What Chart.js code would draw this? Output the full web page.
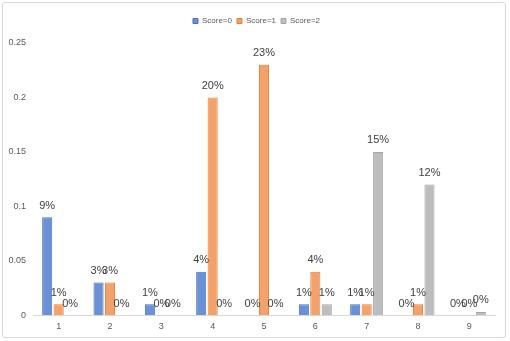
<!DOCTYPE html>
<html>
<head>
<meta charset="utf-8">
<script src="https://cdn.jsdelivr.net/npm/chart.js@4.4.1/dist/chart.umd.min.js"></script>
<style>
  html, body { margin: 0; padding: 0; background: #fff; }
  #wrap { position: relative; width: 510px; height: 341px; }
  #frame { position: absolute; left: 2px; top: 2px; width: 504px; height: 336px; border: 1px solid #d9d9d9; border-radius: 3px; box-sizing: border-box; }
  #chart { position: absolute; left: 0; top: 0; }
</style>
</head>
<body>
<div id="wrap">
  <div id="frame"></div>
  <canvas id="chart" width="510" height="341"></canvas>
</div>
<script>
var categories = ['1', '2', '3', '4', '5', '6', '7', '8', '9'];
var score0 = [0.09, 0.03, 0.01, 0.04, 0, 0.01, 0.01, 0, 0];
var score1 = [0.01, 0.03, 0, 0.20, 0.23, 0.04, 0.01, 0.01, 0];
var score2 = [0, 0, 0, 0, 0, 0.01, 0.15, 0.12, 0.003];
var yTicks = [0, 0.05, 0.1, 0.15, 0.2, 0.25];

// draws the percentage label above every bar
var valueLabels = {
    id: 'valueLabels',
    afterDatasetsDraw: function(chart) {
        var ctx = chart.ctx;
        ctx.save();
        ctx.font = '11px "Liberation Sans", Arial, sans-serif';
        ctx.fillStyle = '#404040';
        ctx.textAlign = 'center';
        ctx.textBaseline = 'bottom';
        chart.data.datasets.forEach(function(ds, i) {
            var meta = chart.getDatasetMeta(i);
            meta.data.forEach(function(bar, j) {
                var v = ds.data[j];
                ctx.fillText(Math.round(v * 100) + '%', bar.x, bar.y - 6);
            });
        });
        ctx.restore();
    }
};

// extra room under the legend, and nudge it right a little
var legendGap = {
    id: 'legendGap',
    beforeInit: function(chart) {
        var fit = chart.legend.fit;
        chart.legend.fit = function() {
            fit.bind(chart.legend)();
            this.height += 8;
        };
    },
    afterLayout: function(chart) {
        chart.legend.left += 9;
        chart.legend.right += 9;
    }
};

function makeSet(label, data, fill, border) {
    return {
        label: label,
        data: data,
        backgroundColor: fill,
        borderColor: border,
        borderWidth: 1,
        categoryPercentage: 0.67,
        barPercentage: 0.88
    };
}

var ctx = document.getElementById('chart').getContext('2d');
var myChart = new Chart(ctx, {
    type: 'bar',
    data: {
        labels: categories,
        datasets: [
            makeSet('Score=0', score0, '#6a90d6', '#4472c4'),
            makeSet('Score=1', score1, '#f3a26b', '#ed7d31'),
            makeSet('Score=2', score2, '#bdbdbd', '#a5a5a5')
        ]
    },
    options: {
        responsive: false,
        animation: false,
        layout: { padding: { left: 0, right: 15, top: 12, bottom: 3 } },
        plugins: {
            legend: {
                position: 'top',
                labels: {
                    boxWidth: 5,
                    boxHeight: 5,
                    padding: 5,
                    color: '#595959',
                    font: { size: 8, family: '"Liberation Sans", Arial, sans-serif' }
                }
            },
            tooltip: { enabled: false }
        },
        scales: {
            x: {
                grid: { display: false, drawTicks: false },
                border: { color: '#d9d9d9' },
                ticks: {
                    padding: 6,
                    color: '#595959',
                    font: { size: 9, family: '"Liberation Sans", Arial, sans-serif' }
                }
            },
            y: {
                min: 0,
                max: 0.25,
                afterFit: function(scale) { scale.width = 33; },
                afterBuildTicks: function(scale) {
                    scale.ticks = yTicks.map(function(v) { return { value: v }; });
                },
                grid: { display: false, drawTicks: false },
                border: { display: false },
                ticks: {
                    padding: 7,
                    color: '#595959',
                    font: { size: 9, family: '"Liberation Sans", Arial, sans-serif' },
                    callback: function(v) { return String(v); }
                }
            }
        }
    },
    plugins: [valueLabels, legendGap]
});
</script>
</body>
</html>
